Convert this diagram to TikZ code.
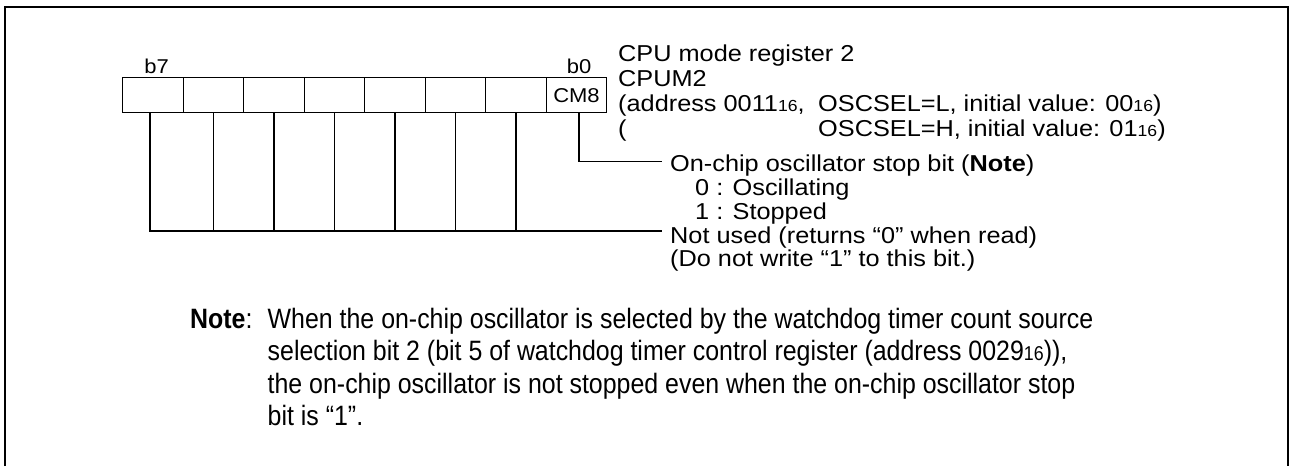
\documentclass[tikz,border=0pt]{standalone}
\usepackage{fontspec}
\setmainfont{Liberation Sans}
\newfontfamily\regfont{Liberation Sans}[FakeStretch=1.1]
\newfontfamily\notefont{Liberation Sans}[FakeStretch=0.89]
\newcommand\hexsixteen{{\fontsize{16}{16}\selectfont 16}}
\begin{document}
\begin{tikzpicture}[x=1pt,y=-1pt,
  cell/.style={draw,line width=1.1pt,minimum width=60.5pt,minimum height=35pt,inner sep=0pt,anchor=center,font=\regfont\fontsize{20}{20}\selectfont},
  lab/.style={inner sep=0pt,anchor=base west,font=\regfont\fontsize{23}{23}\selectfont},
  bitlab/.style={inner sep=0pt,anchor=base,font=\regfont\fontsize{20}{20}\selectfont},
  notetext/.style={inner sep=0pt,anchor=base west,font=\notefont\fontsize{28}{28}\selectfont},
  wire/.style={line width=1.1pt},
  frameline/.style={line width=1.7pt}]
\useasboundingbox (0,0) rectangle (1289,466);
\draw[frameline] (5,466) -- (5,7) -- (1288,7) -- (1288,466);
% register cells
\foreach \i/\n in {0/7,1/6,2/5,3/4,4/3,5/2,6/1}
  \node[cell] (c\n) at ({153+60.5*\i},95.2) {};
\node[cell] (c0) at (576.5,95.2) {CM8};
\node[bitlab] (b7) at (156.7,73) {b7};
\node[bitlab] (b0) at (579,73) {b0};
% register description
\node[lab] (title) at (618,61) {CPU mode register 2};
\node[lab] (sym) at (618,86) {CPUM2};
\node[lab] (addr) at (618,111) {(address 0011\hexsixteen,};
\node[lab] (lvl) at (818,111) {OSCSEL=L, initial value: 00\hexsixteen)};
\node[lab] (paren) at (618,136) {(};
\node[lab] (lvh) at (818,136) {OSCSEL=H, initial value: 01\hexsixteen)};
% bit descriptions
\node[lab] (osc) at (670,171) {On-chip oscillator stop bit (\textbf{Note})};
\node[lab] (o0) at (695,195) {0 : Oscillating};
\node[lab] (o1) at (695,219) {1 : Stopped};
\node[lab] (nu) at (670,243) {Not used (returns “0” when read)};
\node[lab] (nw) at (670,266) {(Do not write “1” to this bit.)};
% connectors
\coordinate (e0) at (662,161.7);
\coordinate (bus) at (662,231);
\draw[wire] ([xshift=2.5pt]c0.south) |- (e0);
\draw[wire] ([xshift=-3pt]c7.south) |- (bus);
\foreach \n in {6,5,4,3,2,1}
  \draw[wire] (c\n.south) -- (c\n.south |- bus);
% note
\node[notetext] (nh) at (190,328) {\textbf{Note}:};
\node[notetext] (n1) at (267.5,328) {When the on-chip oscillator is selected by the watchdog timer count source};
\node[notetext] (n2) at (267.5,360) {selection bit 2 (bit 5 of watchdog timer control register (address 0029{\fontsize{20}{20}\selectfont 16})),};
\node[notetext] (n3) at (267.5,393) {the on-chip oscillator is not stopped even when the on-chip oscillator stop};
\node[notetext] (n4) at (267.5,425) {bit is “1”.};
\end{tikzpicture}
\end{document}
